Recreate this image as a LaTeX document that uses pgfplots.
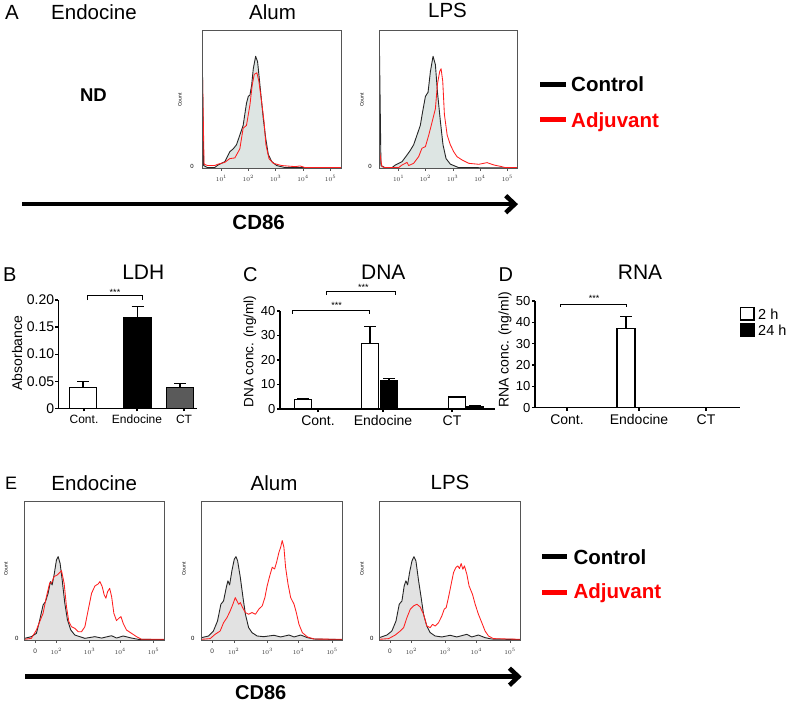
\documentclass[border=0pt]{standalone}
\usepackage{fontspec}
\setmainfont{Liberation Sans}
\usepackage{pgfplots}
\usepackage{pgfplotstable}
\pgfplotsset{compat=1.18}
\usetikzlibrary{arrows.meta}
\definecolor{fillA}{RGB}{221,229,227}
\definecolor{fillE}{RGB}{226,226,226}
\definecolor{redc}{RGB}{255,30,30}
\definecolor{ctgray}{RGB}{90,90,90}
\definecolor{boxc}{RGB}{85,85,85}
\newcommand{\fs}[1]{\fontsize{#1}{#1}\selectfont}

% ---------- Flow histograms (x: % of box width, y: % of box height) ----------
\pgfplotstableread{
x y
0 97
1.2 2
4 0.5
9 0.5
11.6 2.4
16.4 4.8
20 12
22.4 14
24.8 17
27.2 24
29.6 31
32 47
33.3 52
34.5 53
35.7 60
36.9 72
38.6 81
40 77
41.2 65
42.9 48
44.1 36
45.8 22
47.7 10
50.1 5
53.7 2
59.8 0.5
100 0.3
}\AalumC
\pgfplotstableread{
x y
0 87
1.5 3
4 2
9 2
11.6 3
16.4 4.3
20 7
23.6 7.5
27.2 14
29.6 29
32 31
34.5 46
36.1 60
37.6 68
39.5 69
40.9 63
42.9 48
44.6 34
46 17
48.2 7
51.3 3.6
57.3 2
67 1.2
70.6 1.7
74.2 0.5
100 0.5
}\AalumR
\pgfplotstableread{
x y
0 95
1.2 2
4 0.5
9.2 0.5
11.6 2.4
16.4 4.8
20 9.6
22.4 13
24.8 17
27.2 24
29.6 31
31.3 41
33.3 52
35.2 55
36.9 70
38.8 81
40.5 75
42 55
44.1 34
46 17
48.2 7
51.3 3
57.3 0.5
100 0.3
}\AlpsC
\pgfplotstableread{
x y
0 13
1.9 1.2
4 0.5
14 0.5
16.4 2.4
18.8 3.6
20 4.3
21.2 2
24.8 3.6
28.4 8.4
30.8 14.5
33.3 15.7
35.7 24
38 33
40.5 43
42 61
43.6 70
44.6 72
45.8 63
47 39
49 24
51.3 17
53.7 12
56.1 8.4
59.8 6
64.6 3.6
71.8 2.9
77.8 4.1
82.7 2.4
87.5 1.4
91 0.5
100 0.5
}\AlpsR
\pgfplotstableread{
x y
0 1.2
4.8 2.4
8.4 4.8
10.8 14.5
13.2 25.3
14.9 27.7
16.8 33.7
18.5 42.2
19.7 39.8
21.1 47
22.8 57.8
24 60.2
25.4 55.4
26.9 43.4
28.8 26.5
30.7 14.5
33.1 7.2
36 3.6
39.6 2.4
43.2 1.2
50.4 2.4
55.2 1.4
62.4 3.1
65.9 1.4
70.7 2.9
76.7 1.4
81.5 0.5
100 0.3
}\EendoC
\pgfplotstableread{
x y
0 0.5
4.8 1.2
8.4 7.2
10.8 13.3
13.2 19.3
15.6 31.3
18 41.4
19.2 41
21.1 45.8
23.5 47
26.4 50.1
28.3 41
30 24
31.7 13.3
33.6 9.6
36 8.4
38.4 6
40.8 6
43.2 9.6
45.6 21.7
48 33.7
50.4 39
52.8 40.5
54 42.2
55.6 38.6
57.1 32.5
58.3 30.1
59.5 34.9
61 37.3
62.4 31.3
64 19.3
65.9 14
67.6 15.7
69.1 16.9
70.7 12
73.1 7.2
76.7 4.8
80.3 2.4
83.9 0.5
100 0.5
}\EendoR
\pgfplotstableread{
x y
0 1.7
4.8 2.9
8.3 6.5
11.2 13.7
13.6 25.8
15.5 28.2
17.4 37.8
18.6 42.7
19.8 39.8
21.4 49.9
23.1 58.3
24.3 60.2
25.5 57.1
27.4 45.1
29.3 30.6
31 18.6
33.3 8.9
35.7 5.3
39.3 2.9
44 2.4
51.2 3.4
56 2.2
61.9 3.6
65.5 2.2
70.2 3.6
75 1.7
79.8 0.7
100 0.3
}\EalumC
\pgfplotstableread{
x y
0 0.5
6 1
9.5 4.1
13.1 6.5
15.5 12.5
17.9 16.1
20.2 21
22.1 25.8
23.8 30.6
25 28.2
26.2 25.8
27.4 27
29 23.4
31 19.8
33.3 18.6
35.7 19.8
38.1 18.6
40.5 22.2
42.9 24.6
44.8 30.6
46.4 39
48.3 46.5
50 52.5
51.7 51.3
53.1 56.1
54.8 63.4
56 67
57.1 71.8
58.3 67
59.5 52.5
61.2 40.5
63.1 30.6
65.5 25.8
67.1 19.8
69 11.3
71.4 5.3
75 2.2
79.8 0.7
100 0.5
}\EalumR
\pgfplotstableread{
x y
0 1.7
5.4 3.6
8.9 6.5
11.8 13.7
14.1 25.8
16 28.2
17.6 39
18.8 42.7
20 39.8
21.4 48.7
23.1 57.1
24.5 60.2
25.9 57.1
27.8 42.7
29.6 30.6
31.3 18.6
33.6 10.1
36 5.3
39.5 2.9
44.2 2.2
50.1 3.4
54.8 2.2
61.9 4.1
65.4 2.2
70.1 3.6
74.8 1.7
79.5 0.7
100 0.3
}\ElpsC
\pgfplotstableread{
x y
0 0.5
6.6 1
11.3 3.6
14.8 6.5
17.2 8.9
19.5 16.1
21.9 22.2
24.2 24.6
26.6 25.8
28.9 23.9
31.3 18.6
33.6 10.1
36 8.9
37.6 11.3
39.5 10.1
41.9 12.5
44.2 17.3
45.9 22.2
47.3 23.4
48.9 30.6
50.8 40.2
52.5 48.7
54.1 52.3
55.5 53.5
56.7 51.6
57.9 55.2
59.1 51.1
60.2 53.5
61.9 47.5
63.5 39
65.9 33
67.8 25.8
70.1 18.6
72.5 12.5
74.8 6.5
77.2 2.9
80.7 1
100 0.5
}\ElpsR

\pgfplotsset{
  histo/.style={
    scale only axis, anchor=south west,
    xmin=0, xmax=100, ymin=0, ymax=100, enlargelimits=false,
    axis line style={draw=boxc, line width=0.8pt},
    ytick=\empty, xtick pos=left, xtick align=outside,
    major tick length=2.5pt, minor tick length=1.5pt, minor x tick num=4,
    every tick/.style={boxc, line width=0.4pt},
    xticklabel style={font=\fs{6.5}, inner sep=1pt, text=black!80},
    axis on top,
  },
  histA/.style={histo, xtick={14,33.3,53,72.7,92.5},
    xticklabels={$10^{1}$,$10^{2}$,$10^{3}$,$10^{4}$,$10^{5}$},
    xticklabel style={yshift=-3.5pt}},
  histE/.style={histo, xtick={7.5,22.7,46.6,68.6,92.5},
    xticklabels={0,$10^{2}$,$10^{3}$,$10^{4}$,$10^{5}$},
    xticklabel style={yshift=-5pt}},
  ctrl/.style={draw=black!85, line width=0.9pt, line join=round},
  adj/.style={draw=redc, line width=0.85pt, line join=round},
  bars/.style={
    scale only axis, anchor=south west, enlargelimits=false,
    axis x line=bottom, axis y line=left,
    axis line style={-, line width=1.2pt},
    ybar, tick align=outside,
    tick style={line width=1.2pt, black}, major tick length=3pt,
    /pgf/number format/assume math mode=true,
    clip=false,
    yticklabel style={inner sep=1.5pt},
  },
  ebar/.style={bar shift=0pt, draw=black, line width=1.2pt,
    error bars/y dir=plus, error bars/y explicit,
    error bars/error bar style={line width=1.2pt, black},
    error bars/error mark options={rotate=90, mark size=6pt, line width=1.2pt, black}},
}

\begin{document}
\begin{tikzpicture}
\useasboundingbox (0,0) rectangle (787pt,-703pt);

% ================= Panel A =================
\node[font=\fs{20.5}, anchor=base west, inner sep=0] at (5pt,-19.5pt) {A};
\node[font=\fs{20.5}, anchor=base west, inner sep=0] at (51pt,-19.5pt) {Endocine};
\node[font=\fs{20.5}, anchor=base, inner sep=0] at (272.5pt,-19.5pt) {Alum};
\node[font=\fs{20.5}, anchor=base, inner sep=0] at (447.5pt,-17.5pt) {LPS};
\node[font=\bfseries\fs{18.5}, anchor=base, inner sep=0] at (93.5pt,-101.7pt) {ND};

\begin{axis}[histA, at={(202pt,-168.3pt)}, width=139pt, height=138.3pt]
  \addplot[fill=fillA, draw=none] table {\AalumC} \closedcycle;
  \addplot[ctrl] table {\AalumC};
  \addplot[adj] table {\AalumR};
\end{axis}
\begin{axis}[histA, at={(379.3pt,-168.3pt)}, width=138.5pt, height=138.3pt]
  \addplot[fill=fillA, draw=none] table {\AlpsC} \closedcycle;
  \addplot[ctrl] table {\AlpsC};
  \addplot[adj] table {\AlpsR};
\end{axis}
\node[font=\fs{5}, rotate=90] at (180pt,-100pt) {Count};
\node[font=\fs{5}, rotate=90] at (362pt,-100pt) {Count};
\node[font=\fs{6}] at (192pt,-166.5pt) {0};
\node[font=\fs{6}] at (370pt,-166.5pt) {0};

% legend A
\draw[black, line width=4.5pt] (540pt,-84.5pt) -- (566pt,-84.5pt);
\node[font=\bfseries\fs{20.5}, anchor=base west, inner sep=0] at (571pt,-91.7pt) {Control};
\draw[red, line width=4.5pt] (540pt,-119.5pt) -- (566pt,-119.5pt);
\node[font=\bfseries\fs{20.5}, anchor=base west, inner sep=0, text=red] at (571pt,-127.7pt) {Adjuvant};

% arrow A
\draw[line width=4.5pt, -{Straight Barb[length=9pt,width=17pt]}] (22pt,-204.2pt) -- (518pt,-204.2pt);
\node[font=\bfseries\fs{20.5}, anchor=base, inner sep=0] at (258.7pt,-229.3pt) {CD86};

% ================= Panel B =================
\node[font=\fs{20}, anchor=base west, inner sep=0] at (3pt,-281.7pt) {B};
\node[font=\fs{21}, anchor=base, inner sep=0] at (143.3pt,-280pt) {LDH};
\node[font=\fs{14}, rotate=90, inner sep=0] at (17pt,-353pt) {Absorbance};
\begin{axis}[bars, at={(58.3pt,-408.3pt)}, width=138.7pt, height=108.3pt,
  xmin=58.3, xmax=197, ymin=0, ymax=0.2, bar width=27,
  ytick={0,0.05,0.10,0.15,0.20}, yticklabels={0,0.05,0.10,0.15,0.20},
  yticklabel style={font=\fs{14}, inner sep=1pt},
  xtick={84,137,184}, xticklabels={Cont.,Endocine,CT},
  xticklabel style={font=\fs{12}}]
  \addplot[fill=white, ebar] coordinates {(83,0.038) +- (0,0.011)};
  \addplot[fill=black, ebar] coordinates {(137.5,0.167) +- (0,0.021)};
  \addplot[fill=ctgray, ebar] coordinates {(180,0.039) +- (0,0.007)};
  \draw[line width=0.8pt] (axis cs:87,0.200) -- (axis cs:87,0.2085) -- (axis cs:142,0.2085) -- (axis cs:142,0.200);
\end{axis}
\node[font=\fs{9}] at (115pt,-292pt) {***};

% ================= Panel C =================
\node[font=\fs{20}, anchor=base west, inner sep=0] at (243pt,-281.7pt) {C};
\node[font=\fs{21}, anchor=base, inner sep=0] at (383.3pt,-280pt) {DNA};
\node[font=\fs{13.5}, rotate=90] at (250pt,-351.7pt) {DNA conc. (ng/ml)};
\begin{axis}[bars, at={(280pt,-409pt)}, width=215pt, height=98pt,
  xmin=280, xmax=495, ymin=0, ymax=40, bar width=17,
  ytick={0,10,20,30,40},
  yticklabel style={font=\fs{13}},
  xtick={318,383,452}, xticklabels={Cont.,Endocine,CT},
  xticklabel style={font=\fs{14}}]
  % 2 h
  \addplot[fill=white, ebar] coordinates {(303,3.8) +- (0,0.6) (370,26.8) +- (0,6.8) (457,4.9) +- (0,0.3)};
  % 24 h
  \addplot[fill=black, ebar] coordinates {(321,0.2) +- (0,0.1) (389,11.6) +- (0,1.0) (475,0.9) +- (0,0.4)};
  \draw[line width=0.8pt] (axis cs:292.7,38.8) -- (axis cs:292.7,40.4) -- (axis cs:369.3,40.4) -- (axis cs:369.3,38.8);
  \draw[line width=0.8pt] (axis cs:326.7,46.5) -- (axis cs:326.7,47.9) -- (axis cs:395,47.9) -- (axis cs:395,46.5);
\end{axis}
\node[font=\fs{9}, inner sep=0.5pt] at (336.7pt,-305.3pt) {***};
\node[font=\fs{9}, inner sep=0.5pt] at (363.3pt,-287.5pt) {***};

% ================= Panel D =================
\node[font=\fs{20}, anchor=base west, inner sep=0] at (498.3pt,-281.7pt) {D};
\node[font=\fs{21}, anchor=base, inner sep=0] at (640pt,-280pt) {RNA};
\node[font=\fs{14}, rotate=90] at (505pt,-350pt) {RNA conc. (ng/ml)};
\begin{axis}[bars, at={(535pt,-407.7pt)}, width=205pt, height=106.7pt,
  xmin=535, xmax=740, ymin=0, ymax=50, bar width=18,
  ytick={0,10,20,30,40,50},
  yticklabel style={font=\fs{13}},
  xtick={567,639,706}, xticklabels={Cont.,Endocine,CT},
  xticklabel style={font=\fs{14}}]
  \addplot[fill=white, ebar] coordinates {(626,37.0) +- (0,5.7)};
  \draw[line width=0.8pt] (axis cs:560.7,47.2) -- (axis cs:560.7,48.6) -- (axis cs:626.7,48.6) -- (axis cs:626.7,47.2);
\end{axis}
\node[font=\fs{9}] at (594pt,-298.7pt) {***};
% legend D
\draw[line width=1.2pt, fill=white] (740.5pt,-307.5pt) rectangle (754pt,-320pt);
\draw[line width=1.2pt, fill=black] (740.5pt,-324pt) rectangle (754pt,-336pt);
\node[font=\fs{14.5}, anchor=west, inner sep=0] at (758pt,-314pt) {2 h};
\node[font=\fs{14.5}, anchor=west, inner sep=0] at (758pt,-330.5pt) {24 h};

% ================= Panel E =================
\node[font=\fs{18}, anchor=base west, inner sep=0] at (5pt,-489.3pt) {E};
\node[font=\fs{20.5}, anchor=base, inner sep=0] at (94.2pt,-490pt) {Endocine};
\node[font=\fs{20.5}, anchor=base, inner sep=0] at (274pt,-490pt) {Alum};
\node[font=\fs{20.5}, anchor=base, inner sep=0] at (450pt,-489.3pt) {LPS};

\begin{axis}[histE, at={(24.7pt,-640pt)}, width=139.3pt, height=138.5pt]
  \addplot[fill=fillE, draw=none] table {\EendoC} \closedcycle;
  \addplot[ctrl] table {\EendoC};
  \addplot[adj] table {\EendoR};
\end{axis}
\begin{axis}[histE, at={(201.7pt,-640pt)}, width=141pt, height=138.5pt]
  \addplot[fill=fillE, draw=none] table {\EalumC} \closedcycle;
  \addplot[ctrl] table {\EalumC};
  \addplot[adj] table {\EalumR};
\end{axis}
\begin{axis}[histE, at={(379.3pt,-640pt)}, width=141.4pt, height=138.5pt]
  \addplot[fill=fillE, draw=none] table {\ElpsC} \closedcycle;
  \addplot[ctrl] table {\ElpsC};
  \addplot[adj] table {\ElpsR};
\end{axis}
\node[font=\fs{5}, rotate=90] at (6pt,-569pt) {Count};
\node[font=\fs{5}, rotate=90] at (184pt,-569pt) {Count};
\node[font=\fs{5}, rotate=90] at (362pt,-569pt) {Count};
\node[font=\fs{6}] at (16.7pt,-638pt) {0};
\node[font=\fs{6}] at (192.7pt,-638pt) {0};
\node[font=\fs{6}] at (371.7pt,-638pt) {0};

% legend E
\draw[black, line width=4.5pt] (542.3pt,-556.7pt) -- (566.7pt,-556.7pt);
\node[font=\bfseries\fs{20.5}, anchor=base west, inner sep=0] at (573.3pt,-564pt) {Control};
\draw[red, line width=4.5pt] (542.3pt,-592.3pt) -- (566.7pt,-592.3pt);
\node[font=\bfseries\fs{20.5}, anchor=base west, inner sep=0, text=red] at (573.3pt,-598.3pt) {Adjuvant};

% arrow E
\draw[line width=4.5pt, -{Straight Barb[length=9pt,width=17pt]}] (25pt,-676.7pt) -- (521.7pt,-676.7pt);
\node[font=\bfseries\fs{20}, anchor=base, inner sep=0] at (260.8pt,-699pt) {CD86};

\end{tikzpicture}
\end{document}
